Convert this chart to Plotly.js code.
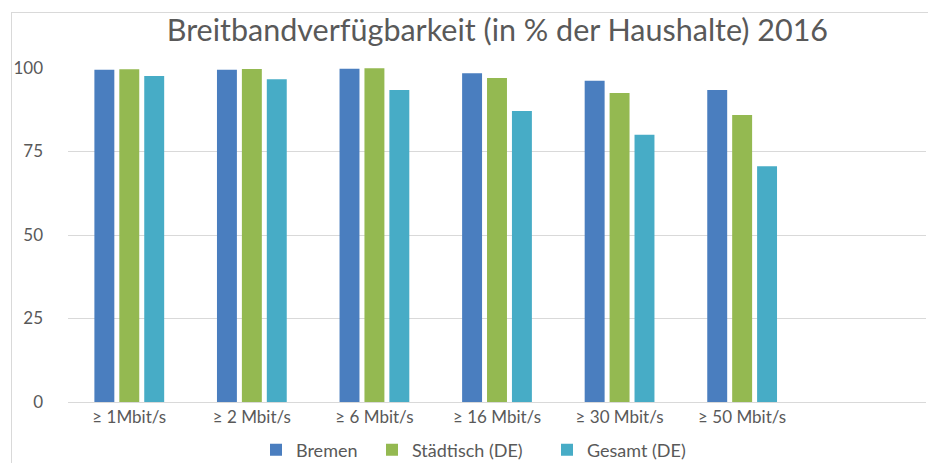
<!DOCTYPE html>
<html>
<head>
<meta charset="utf-8">
<script src="https://cdn.plot.ly/plotly-3.0.1.min.js"></script>
<style>
  body { margin: 0; background: #fff; }
  #chart { width: 928px; height: 463px; }
  #frame { position: absolute; left: 11px; top: 12px; width: 940px; height: 470px;
           border: 1px solid #d9d9d9; pointer-events: none; }
</style>
</head>
<body>
<div id="chart"></div>
<div id="frame"></div>
<script>
var categories = ['≥ 1Mbit/s', '≥ 2 Mbit/s', '≥ 6 Mbit/s', '≥ 16 Mbit/s', '≥ 30 Mbit/s', '≥ 50 Mbit/s'];
var bremen = [99.5, 99.5, 99.8, 98.4, 96.2, 93.4];
var staedtisch = [99.6, 99.7, 99.9, 97.0, 92.5, 85.9];
var gesamt = [97.6, 96.6, 93.4, 87.1, 80.0, 70.6];
var yTicks = [0, 25, 50, 75, 100];

var FONT = 'Lato, "Open Sans", sans-serif';
var TEXT = '#595959';

function series(name, values, color, legendId) {
    return {
        type: 'bar',
        name: name,
        x: categories,
        y: values,
        marker: { color: color },
        legend: legendId,
        hoverinfo: 'x+y+name'
    };
}

var data = [
    series('Bremen', bremen, '#4a7ebf', 'legend'),
    series('Städtisch (DE)', staedtisch, '#94b951', 'legend2'),
    series('Gesamt (DE)', gesamt, '#47acc6', 'legend3')
];

// one legend per series so the gaps between entries can follow the original
function legendAt(px) {
    return {
        orientation: 'h',
        xref: 'container', yref: 'container',
        x: px / 928, xanchor: 'left',
        y: 13 / 463, yanchor: 'middle',
        font: { family: FONT, size: 18, color: TEXT },
        bgcolor: 'rgba(0,0,0,0)'
    };
}

var layout = {
    width: 928,
    height: 463,
    margin: { l: 68, r: 2, t: 68, b: 61 },
    paper_bgcolor: '#fff',
    plot_bgcolor: '#fff',
    font: { family: FONT, color: TEXT, size: 17 },
    title: {
        text: 'Breitbandverfügbarkeit (in % der Haushalte) 2016',
        font: { family: FONT, size: 30.5, color: TEXT },
        x: 0.536, xanchor: 'center',
        y: 0.935, yanchor: 'middle'
    },
    barmode: 'group',
    bargap: 0.39,
    bargroupgap: 0.2,
    xaxis: {
        type: 'category',
        range: [-0.5, 6.5],
        automargin: false,
        showgrid: false,
        showline: true,
        linecolor: '#d9d9d9',
        linewidth: 1,
        ticks: '',
        tickfont: { family: FONT, size: 17, color: TEXT }
    },
    yaxis: {
        range: [0, 100],
        automargin: false,
        tickvals: yTicks,
        ticktext: yTicks.map(String),
        showgrid: true,
        gridcolor: '#d9d9d9',
        gridwidth: 1,
        zeroline: false,
        showline: false,
        ticks: '',
        ticklabelstandoff: 24,
        tickfont: { family: FONT, size: 17, color: TEXT }
    },
    showlegend: true,
    legend: legendAt(256),
    legend2: legendAt(372),
    legend3: legendAt(547)
};

Plotly.newPlot('chart', data, layout, { displayModeBar: false, staticPlot: true });
</script>
</body>
</html>
